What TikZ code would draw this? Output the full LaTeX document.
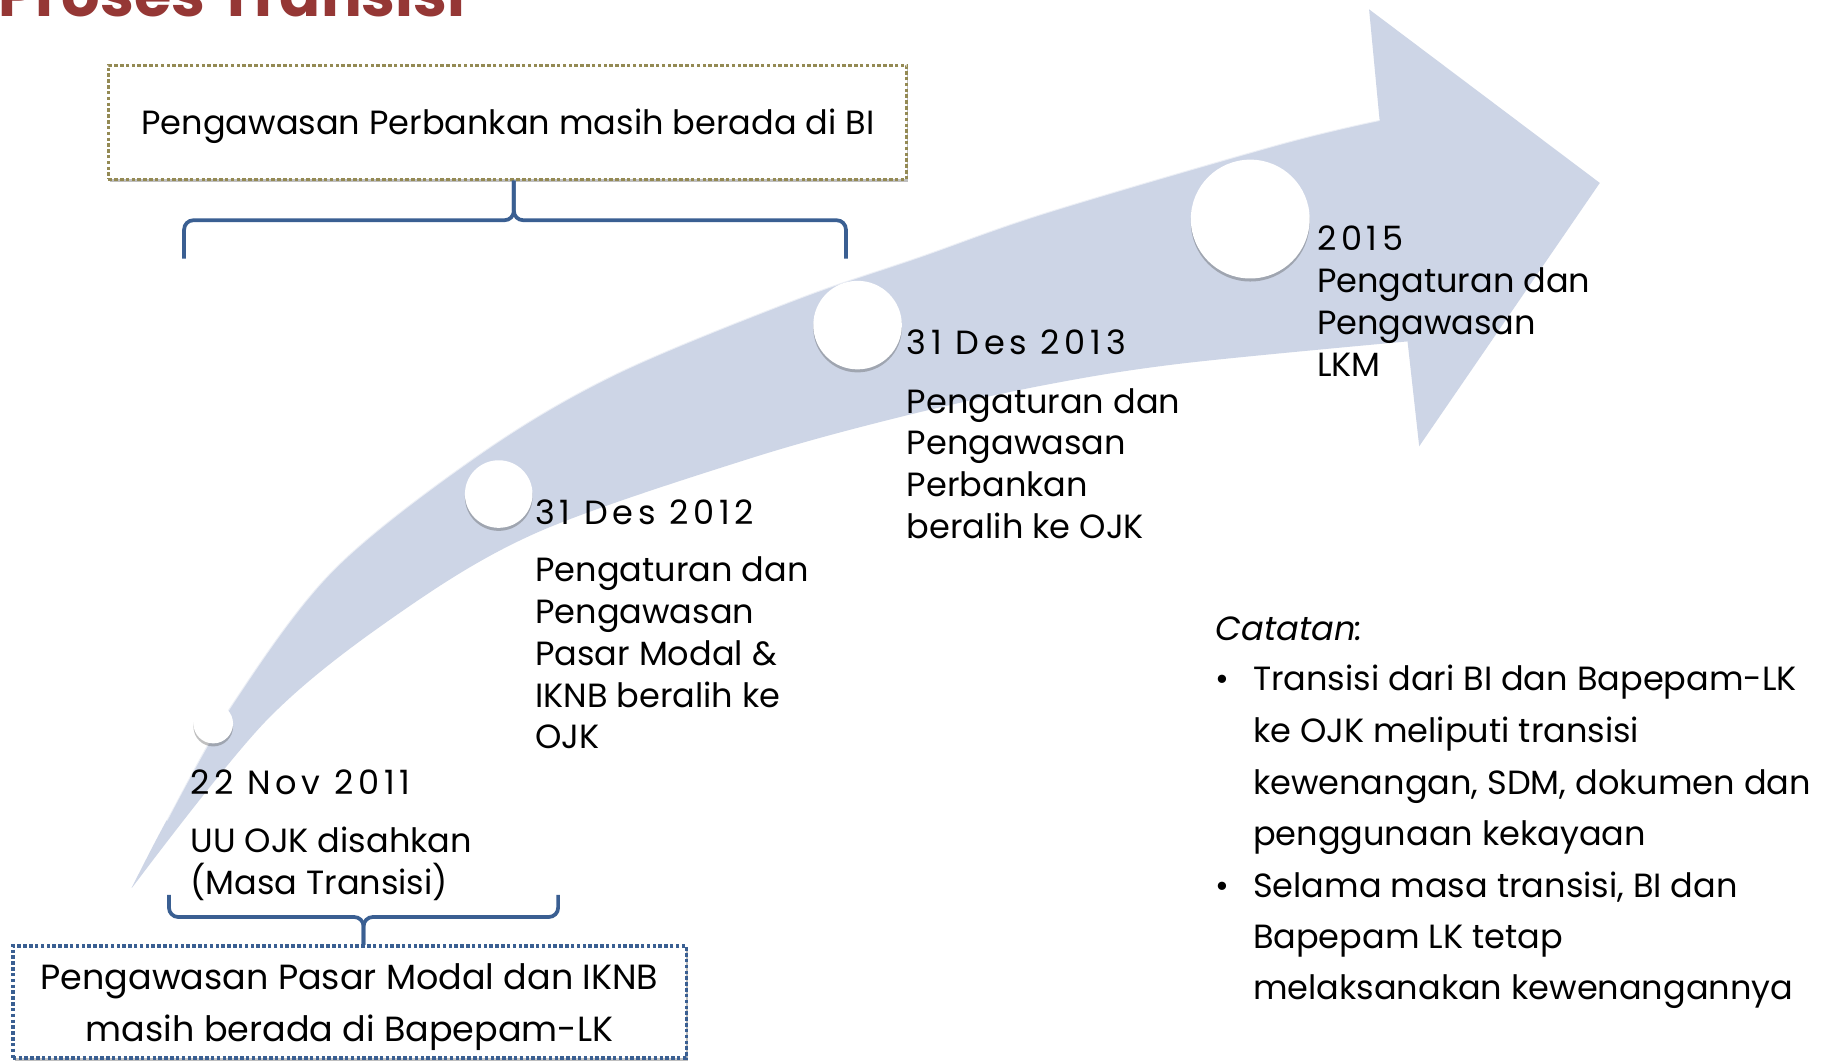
\documentclass[tikz,border=0pt]{standalone}
\usepackage{fontspec}
\setmainfont{Poppins}
\usetikzlibrary{shadows,calc}
\definecolor{arrowc}{RGB}{205,213,230}
\definecolor{bracec}{RGB}{58,95,146}
\definecolor{olivec}{RGB}{148,138,84}
\definecolor{titlec}{RGB}{149,55,53}
\newcommand\mainsz{\fontsize{14.4}{18}\selectfont}
\newcommand\datesz{\fontsize{14.4}{18}\selectfont\addfontfeatures{LetterSpace=14}}
\begin{document}
\begin{tikzpicture}[x=0.5pt,y=-0.5pt,
  txt/.style={anchor=base west, inner sep=0pt, font=\mainsz},
  datetxt/.style={anchor=base west, inner sep=0pt, font=\datesz},
  ctxt/.style={anchor=base, inner sep=0pt, font=\mainsz},
  dotbox/.style={draw, line width=1.5pt, dash pattern=on 1.5pt off 1pt, fill=white,
     drop shadow={shadow xshift=0.8pt, shadow yshift=-1.2pt, opacity=0.25, fill=black}},
  bracepath/.style={draw=bracec, line width=1.6pt, rounded corners=4pt},
  milestone/.style={circle, fill=white, inner sep=0pt,
     drop shadow={shadow xshift=0pt, shadow yshift=-1.3pt, opacity=0.35, fill=black!70}}]
\useasboundingbox (0,0) rectangle (1568,911);
\fill[white] (0,0) rectangle (1568,911);

% title (cut at the top)
\node[anchor=base west, inner sep=0pt, text=titlec, font=\fontsize{26}{30}\bfseries\selectfont] (title) at (-2,14) {Proses Transisi};

% curved arrow
\fill[arrowc] plot[smooth, tension=0.55] coordinates {(113,762) (143,704) (200,603) (286,489) (411,390) (526,322) (680,258) (790,220) (899,182) (1097,124) (1184,103)}
  -- (1175,8) -- (1373,157) -- (1218,383) -- (1208,293)
  -- plot[smooth, tension=0.55] coordinates {(1208,293) (1014,312) (899,330) (776,357) (642,394) (461,457) (343,526) (229,618) (114,761)} -- cycle;
\draw[white, opacity=0.6, line width=0.8pt] plot[smooth, tension=0.55] coordinates {(143,704) (200,603) (286,489) (411,390) (526,322) (680,258) (790,220) (899,182) (1097,124) (1184,103)};

% milestones
\node[milestone, minimum size=17pt] (c1) at (183,621) {};
\node[milestone, minimum size=29pt] (c2) at (428,424) {};
\node[milestone, minimum size=38pt] (c3) at (736,279) {};
\node[milestone, minimum size=51pt] (c4) at (1073,188) {};

% top box
\node[dotbox, draw=olivec, minimum width=342.5pt, minimum height=49pt] (topbox) at (435.5,105) {};
\node[ctxt] (toptext) at (436,115) {Pengawasan Perbankan masih berada di BI};

% top brace
\coordinate (tbl) at (158,222);
\coordinate (tbr) at (726,222);
\coordinate (tbm) at (441,189);
\coordinate (tbt) at (441,155);
\path[bracepath] (tbl) |- (tbm) -- (tbt);
\path[bracepath] (tbr) |- (tbm) -- (tbt);

% bottom box
\node[dotbox, draw=bracec, minimum width=289pt, minimum height=48pt] (botbox) at (300,860) {};
\node[ctxt, font=\fontsize{15}{18}\selectfont] (bt1) at (300,849) {Pengawasan Pasar Modal dan IKNB};
\node[ctxt, font=\fontsize{15}{18}\selectfont] (bt2) at (300,894) {masih berada di Bapepam-LK};

% bottom brace
\coordinate (bbl) at (145,768);
\coordinate (bbr) at (479,768);
\coordinate (bbm) at (312,787);
\coordinate (bbt) at (312,811);
\path[bracepath] (bbl) |- (bbm) -- (bbt);
\path[bracepath] (bbr) |- (bbm) -- (bbt);

% 2011
\node[datetxt] (d1) at (163,682) {22 Nov 2011};
\node[txt] (d1a) at (163,732) {UU OJK disahkan};
\node[txt] (d1b) at (163,768) {(Masa Transisi)};

% 2012
\node[datetxt] (d2) at (459,450) {31 Des 2012};
\node[txt] (d2a) at (459,499) {Pengaturan dan};
\node[txt] (d2b) at (459,535) {Pengawasan};
\node[txt] (d2c) at (459,571) {Pasar Modal \&};
\node[txt] (d2d) at (459,607) {IKNB beralih ke};
\node[txt] (d2e) at (459,642) {OJK};

% 2013
\node[datetxt] (d3) at (778,304) {31 Des 2013};
\node[txt] (d3a) at (778,355) {Pengaturan dan};
\node[txt] (d3b) at (778,390) {Pengawasan};
\node[txt] (d3c) at (778,426) {Perbankan};
\node[txt] (d3d) at (778,462) {beralih ke OJK};

% 2015
\node[datetxt] (d4) at (1130,215) {2015};
\node[txt] (d4a) at (1130,251) {Pengaturan dan};
\node[txt] (d4b) at (1130,287) {Pengawasan};
\node[txt] (d4c) at (1130,323) {LKM};

% notes
\node[txt, font=\mainsz\itshape] (cat) at (1043,550) {Catatan:};
\node[txt] (b1) at (1043,593) {•};
\node[txt] (n1) at (1075,593) {Transisi dari BI dan Bapepam-LK};
\node[txt] (n2) at (1075,637) {ke OJK meliputi transisi};
\node[txt] (n3) at (1075,682) {kewenangan, SDM, dokumen dan};
\node[txt] (n4) at (1075,726) {penggunaan kekayaan};
\node[txt] (b2) at (1043,770) {•};
\node[txt] (n5) at (1075,770) {Selama masa transisi, BI dan};
\node[txt] (n6) at (1075,814) {Bapepam LK tetap};
\node[txt] (n7) at (1075,858) {melaksanakan kewenangannya};
\end{tikzpicture}
\end{document}
